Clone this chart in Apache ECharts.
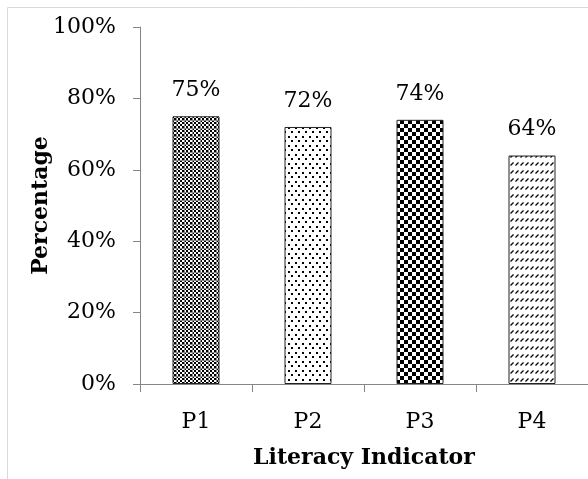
<!DOCTYPE html>
<html><head><meta charset="utf-8">
<script src="https://cdn.jsdelivr.net/npm/echarts@6/dist/echarts.min.js"></script>
<style>html,body{margin:0;padding:0;background:#fff}#c{width:588px;height:479px}</style>
</head><body><div id="c"></div>
<script>
var categories = ['P1', 'P2', 'P3', 'P4'];
var values = [75, 72, 74, 64];
var yTicks = [0, 20, 40, 60, 80, 100];

function tile(w, h, draw) {
  var c = document.createElement('canvas');
  c.width = w; c.height = h;
  var g = c.getContext('2d');
  g.fillStyle = '#fff'; g.fillRect(0, 0, w, h);
  draw(g);
  return c;
}
// P1: fine checker with grey grid
var pat1 = tile(8, 8, function (g) {
  for (var y = 0; y < 8; y += 2) for (var x = 0; x < 8; x += 2) {
    if (((x + y) / 2) % 2 === 0) { g.fillStyle = '#000'; g.fillRect(x, y, 2, 2); }
  }
  g.fillStyle = '#888'; g.fillRect(0, 0, 8, 1); g.fillRect(0, 0, 1, 8);
});
// P2: sparse dots
var pat2 = tile(7, 9, function (g) {
  g.fillStyle = '#000';
  g.fillRect(1, 1, 2, 2); g.fillRect(4, 5, 2, 2);
});
// P3: larger checker
var pat3 = tile(8, 8, function (g) {
  g.fillStyle = '#000';
  g.fillRect(0, 0, 4, 4); g.fillRect(4, 4, 4, 4);
});
// P4: diagonal dashes
var pat4 = tile(5, 8, function (g) {
  g.strokeStyle = '#000'; g.lineWidth = 1.3;
  g.beginPath(); g.moveTo(0.5, 5.5); g.lineTo(3.5, 2.5); g.stroke();
});
var pats = [pat1, pat2, pat3, pat4];

var chart = echarts.init(document.getElementById('c'));
var FONT = 'DejaVu Serif';
chart.setOption({
  animation: false,
  graphic: [{
    type: 'polyline', shape: { points: [[7.5, 479], [7.5, 7.5], [588, 7.5]] },
    style: { stroke: '#d9d9d9', lineWidth: 1, fill: null }
  }],
  grid: { left: 140, top: 27, bottom: 95, right: -6 },
  xAxis: {
    type: 'category', data: categories,
    axisLine: { lineStyle: { color: '#868686', width: 1 } },
    axisTick: { show: true, length: 8, lineStyle: { color: '#868686' } },
    axisLabel: { fontFamily: FONT, fontSize: 22, color: '#000', margin: 27 },
    name: 'Literacy Indicator', nameLocation: 'middle', nameGap: 63,
    nameTextStyle: { fontFamily: FONT, fontSize: 22, fontWeight: 'bold', color: '#000' }
  },
  yAxis: {
    type: 'value', min: 0, max: 100, interval: 20,
    splitLine: { show: false },
    axisLine: { show: true, lineStyle: { color: '#868686', width: 1 } },
    axisTick: { show: true, inside: false, length: 7, lineStyle: { color: '#868686' } },
    axisLabel: { fontFamily: FONT, fontSize: 22, color: '#000', margin: 24,
      formatter: function (v) { return yTicks.indexOf(v) >= 0 ? v + '%' : ''; } },
    name: 'Percentage', nameLocation: 'middle', nameGap: 88, nameRotate: 90,
    nameMoveOverlap: false,
    nameTextStyle: { fontFamily: FONT, fontSize: 22, fontWeight: 'bold', color: '#000' }
  },
  series: [{
    type: 'bar', barWidth: 47,
    data: values.map(function (v, i) {
      return { value: v, itemStyle: { color: { image: pats[i], repeat: 'repeat' }, borderColor: '#222', borderWidth: 1 } };
    }),
    label: { show: true, position: 'top', distance: 15, fontFamily: FONT, fontSize: 22, color: '#000',
      formatter: function (p) { return p.value + '%'; } }
  }]
});
</script></body></html>
